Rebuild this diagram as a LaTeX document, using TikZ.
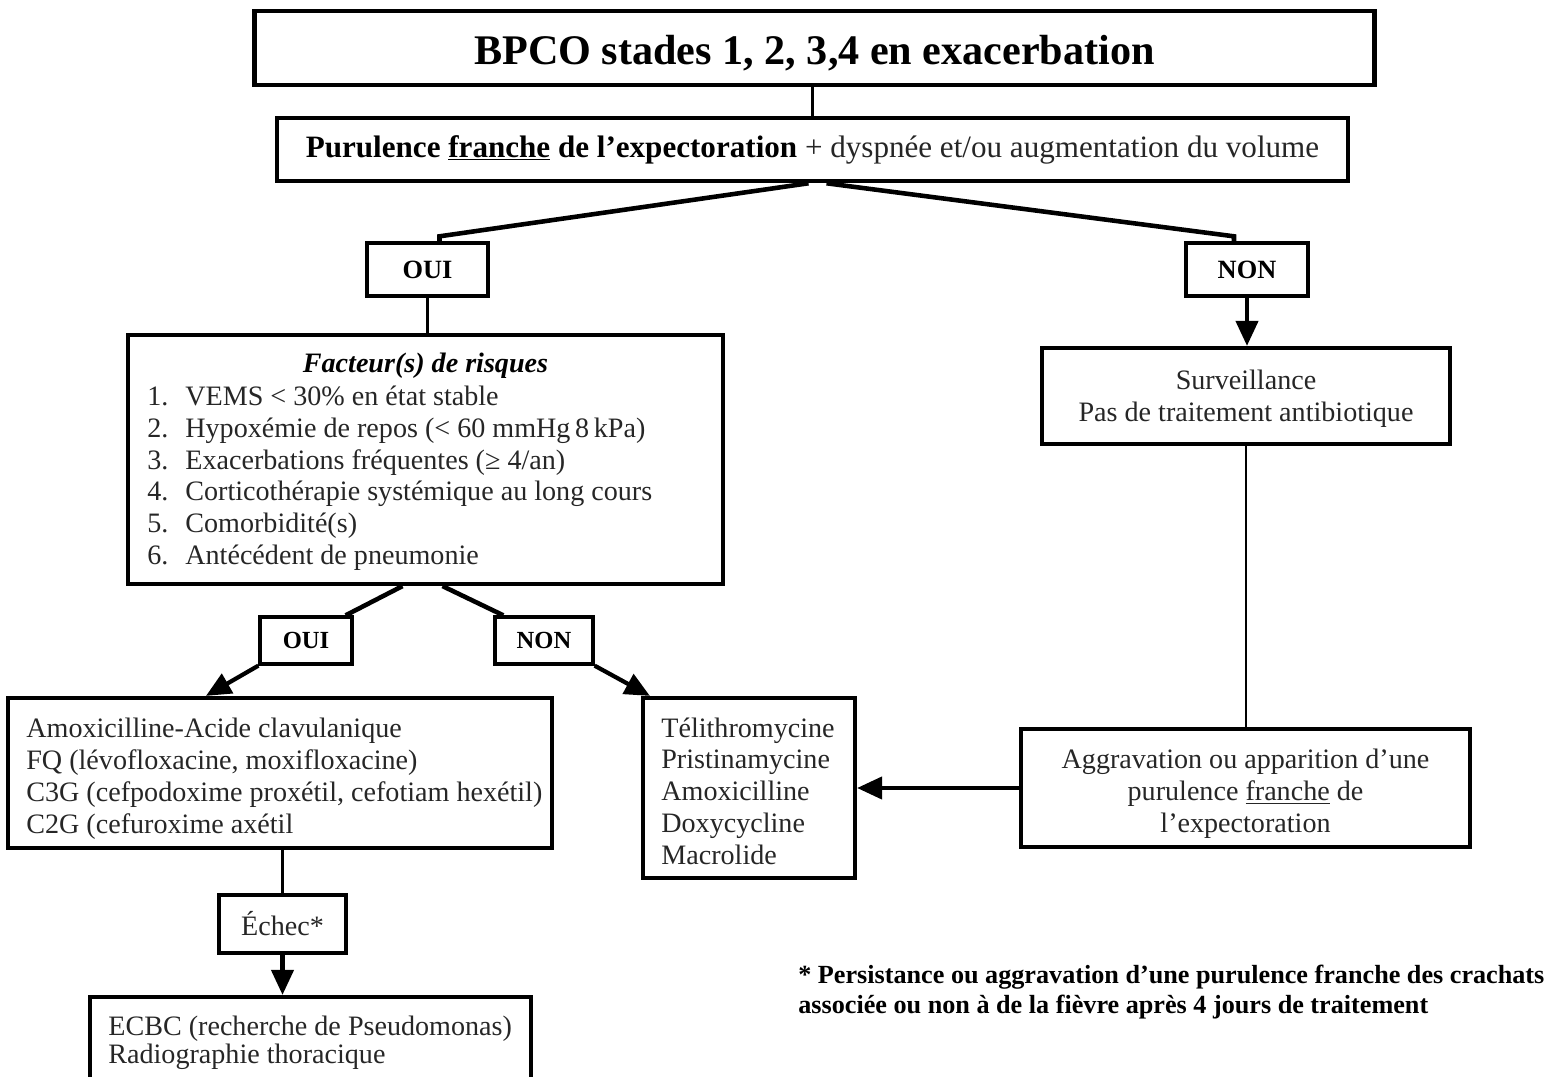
\documentclass[tikz,border=0pt]{standalone}
\usepackage{fontspec}
\setmainfont{Liberation Serif}
\usepackage{xcolor}
\usepackage{tikz}
\usetikzlibrary{positioning, calc, arrows.meta}

\newcommand{\bodysize}{\fontsize{16}{18.2}\selectfont}

\begin{document}
\begin{tikzpicture}[x=0.02cm, y=-0.02cm,
	box/.style={draw, line width=2.4pt, inner sep=0pt, text=black!85, font=\bodysize},
	tag/.style={draw, line width=1.9pt, inner sep=0pt, font=\fontsize{15}{17}\selectfont\bfseries},
	txt/.style={anchor=base west, inner sep=0pt, text=black!85, font=\bodysize},
	link/.style={line width=1.4pt},
	diag/.style={line width=2.6pt},
	arr/.style={line width=2.4pt, -{Triangle[length=0.5cm, width=0.44cm]}}]

	\useasboundingbox (0,0) rectangle (1552,1077);

	% boxes
	\node[box, minimum width=22.42cm, minimum height=1.48cm, line width=2.8pt, text=black, text height=0.68cm, text depth=0pt, font=\fontsize{24}{27}\selectfont\bfseries] (title) at (814.5,48) {BPCO stades 1, 2, 3,4 en exacerbation};
	\node[box, minimum width=21.42cm, minimum height=1.26cm, line width=2.6pt, font=\fontsize{17.7}{20}\selectfont] (pur) at (812.5,149.5) {\textbf{\textcolor{black}{Purulence \underline{franche} de l’expectoration}} + dyspnée et/ou augmentation du volume};
	\node[tag, minimum width=2.42cm, minimum height=1.06cm] (oui) at (427.5,269.5) {OUI};
	\node[tag, minimum width=2.44cm, minimum height=1.06cm] (non) at (1247,269.5) {NON};
	\node[box, minimum width=11.9cm, minimum height=4.98cm] (fact) at (425.5,459.5) {};
	\node[box, minimum width=8.16cm, minimum height=1.92cm] (surv) at (1246,396) {};
	\node[tag, minimum width=1.84cm, minimum height=0.94cm, font=\fontsize{14}{16}\selectfont\bfseries] (oui2) at (306,640.5) {OUI};
	\node[tag, minimum width=1.96cm, minimum height=0.94cm, font=\fontsize{14}{16}\selectfont\bfseries] (non2) at (544,640.5) {NON};
	\node[box, minimum width=10.88cm, minimum height=3cm] (amoxi) at (280,773) {};
	\node[box, minimum width=4.24cm, minimum height=3.6cm] (tel) at (749,788) {};
	\node[box, minimum width=8.98cm, minimum height=2.36cm] (agg) at (1245.5,788) {};
	\node[box, minimum width=2.54cm, minimum height=1.16cm] (echec) at (282.5,924) {Échec*};
	\node[box, minimum width=8.82cm, minimum height=2.2cm] (ecbc) at (310.5,1052) {};

	% box texts
	\node[align=center, inner sep=0pt, text=black!85, font=\bodysize] (survtext) at (1246,399) {Surveillance\\Pas de traitement antibiotique};
	\node[align=center, inner sep=0pt, text=black!85, font=\bodysize] (aggtext) at (1245.5,794) {Aggravation ou apparition d’une\\purulence \underline{franche} de\\l’expectoration};
	\node[txt, anchor=base, text=black, font=\bodysize\bfseries\itshape] (facthead) at (425.5,373) {Facteur(s) de risques};
	\foreach \risk [count=\i] in {VEMS < 30\% en état stable, Hypoxémie de repos (< 60 mmHg\,8\,kPa), Exacerbations fréquentes (≥ 4/an), Corticothérapie systémique au long cours, Comorbidité(s), Antécédent de pneumonie}
	{
	\node[txt] (factnum\i) at (147, 406+31.6*\i-31.6) {\i.};
	\node[txt] (factrisk\i) at (185, 406+31.6*\i-31.6) {\risk};
	}
	\foreach \drug [count=\i] in {Amoxicilline-Acide clavulanique, {FQ (lévofloxacine, moxifloxacine)}, {C3G (cefpodoxime proxétil, cefotiam hexétil)}, C2G (cefuroxime axétil}
	\node[txt] (amoxidrug\i) at (26, 737+32*\i-32) {\drug};
	\foreach \drug [count=\i] in {Télithromycine, Pristinamycine, Amoxicilline, Doxycycline, Macrolide}
	\node[txt] (teldrug\i) at (661, 737+31.8*\i-31.8) {\drug};
	\foreach \exam [count=\i] in {ECBC (recherche de Pseudomonas), Radiographie thoracique}
	\node[txt] (ecbcexam\i) at (108, 1035+28*\i-28) {\exam};

	\node[anchor=west, align=left, inner sep=0pt, font=\fontsize{14.9}{17}\selectfont\bfseries] (note) at (798,992) {* Persistance ou aggravation d’une purulence franche des crachats\\associée ou non à de la fièvre après 4 jours de traitement};

	% connectors
	\draw[link] (pur.north |- title.south) -- (pur.north);
	\draw[diag] ($(pur.south)+(-4,0)$) -- ($(oui.north)+(12,-5)$) -- ($(oui.north)+(12,0)$);
	\draw[diag] ($(pur.south)+(14,0)$) -- ($(non.north)+(-13,-5)$) -- ($(non.north)+(-13,0)$);
	\draw[link] (oui.south) -- (oui.south |- fact.north);
	\draw[arr] (non.south) -- (non.south |- surv.north);
	\draw[link] (surv.south) -- (surv.south |- agg.north);
	\draw[arr] (agg.west) -- (agg.west -| tel.east);
	\draw[diag] ($(fact.south)+(-23,0)$) -- ($(oui2.north east)+(-8,0)$);
	\draw[arr] (oui2.south west) -- ($(amoxi.north west)+(200,0)$);
	\draw[diag] ($(fact.south)+(17,0)$) -- ($(non2.north west)+(10,0)$);
	\draw[arr] (non2.south east) -- ($(tel.north west)+(9,0)$);
	\draw[link] (echec.north |- amoxi.south) -- (echec.north);
	\draw[arr] (echec.south) -- (echec.south |- ecbc.north);

\end{tikzpicture}
\end{document}
